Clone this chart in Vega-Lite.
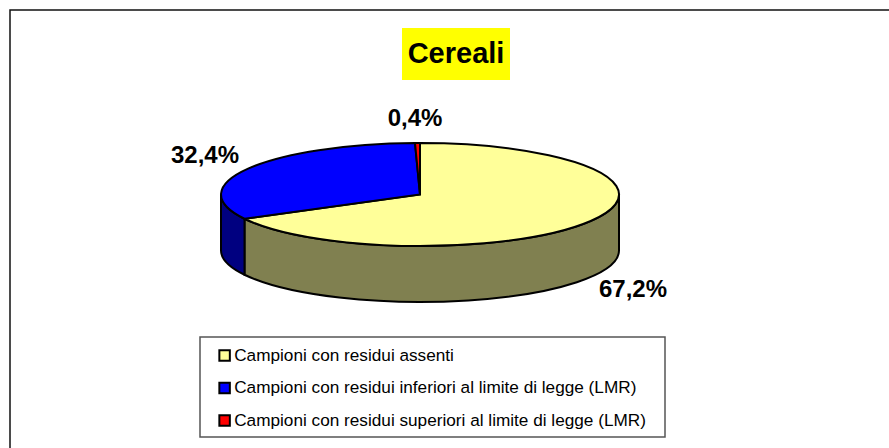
{
  "$schema": "https://vega.github.io/schema/vega-lite/v6.json",
  "autosize": {"type": "none"},
  "padding": {"left": 10, "top": 10, "right": 0, "bottom": 0},
  "width": 880,
  "height": 439,
  "background": "white",
  "view": {"stroke": "#111111", "strokeWidth": 1.5, "fill": "white"},
  "title": {"text": "Cereali", "font": "Liberation Sans", "fontSize": 29, "fontWeight": "bold", "color": "black", "anchor": "middle", "baseline": "alphabetic", "offset": 0, "dx": 6, "dy": 82},
  "data": {"values": [
    {"categoria": "Campioni con residui assenti", "percentuale": 67.2, "etichetta": "67,2%"},
    {"categoria": "Campioni con residui inferiori al limite di legge (LMR)", "percentuale": 32.4, "etichetta": "32,4%"},
    {"categoria": "Campioni con residui superiori al limite di legge (LMR)", "percentuale": 0.4, "etichetta": "0,4%"}
  ]},
  "layer": [
    {
      "data": {"values": [{"parte": "sfondo titolo"}]},
      "mark": {"type": "point", "filled": true, "opacity": 1, "size": 4, "fill": "#FFFF00", "stroke": null, "shape": "M-48,-201.5 L60,-201.5 L60,-149.5 L-48,-149.5 Z"}
    },
    {
      "data": {"values": [{"parte": "riquadro legenda"}]},
      "mark": {"type": "point", "filled": true, "opacity": 1, "size": 4, "fill": "white", "stroke": "#555555", "strokeWidth": 1.5, "shape": "M-250,107.5 L215,107.5 L215,207.5 L-250,207.5 Z"}
    },
    {
      "transform": [{"filter": "datum.etichetta === '67,2%'"}],
      "mark": {"type": "point", "filled": true, "opacity": 1, "size": 4, "stroke": "black", "strokeWidth": 2, "fill": "#808050", "shape": "M169,-35 A199,51.5 0 0 1 -205.5,-10.74 L-205.5,45.26 A199,51.5 0 0 0 169,21 Z"}
    },
    {
      "transform": [{"filter": "datum.etichetta === '32,4%'"}],
      "mark": {"type": "point", "filled": true, "opacity": 1, "size": 4, "stroke": "black", "strokeWidth": 2, "fill": "#000080", "shape": "M-205.5,-10.74 A199,51.5 0 0 1 -229,-35 L-229,21 A199,51.5 0 0 0 -205.5,45.26 Z"}
    },
    {
      "mark": {"type": "point", "filled": true, "opacity": 1, "size": 4, "stroke": "black", "strokeWidth": 2},
      "encoding": {
        "fill": {
          "field": "categoria", "type": "nominal",
          "scale": {"domain": ["Campioni con residui assenti", "Campioni con residui inferiori al limite di legge (LMR)", "Campioni con residui superiori al limite di legge (LMR)"], "range": ["#FFFF99", "#0000FF", "#FF0000"]},
          "legend": {"orient": "none", "legendX": 206, "legendY": 337, "title": null, "padding": 0, "symbolType": "square", "symbolSize": 110, "symbolStrokeColor": "black", "symbolStrokeWidth": 2, "labelFont": "Liberation Sans", "labelFontSize": 17.2, "labelColor": "black", "labelOffset": 1, "labelLimit": 600, "rowPadding": 13.5}
        },
        "shape": {"field": "etichetta", "type": "nominal", "legend": null, "scale": {"domain": ["67,2%", "32,4%", "0,4%"], "range": [
          "M-30,-35 L-30,-86.5 A199,51.5 0 1 1 -205.5,-10.74 Z",
          "M-30,-35 L-205.5,-10.74 A199,51.5 0 0 1 -35,-86.48 Z",
          "M-30,-35 L-35,-86.48 A199,51.5 0 0 1 -30,-86.5 Z"
        ]}}
      }
    },
    {
      "transform": [{"filter": "datum.etichetta === '67,2%'"}],
      "mark": {"type": "text", "font": "Liberation Sans", "fontWeight": "bold", "fontSize": 24, "color": "black", "align": "center", "baseline": "middle", "dx": 183, "dy": 60.5},
      "encoding": {"text": {"field": "etichetta"}}
    },
    {
      "transform": [{"filter": "datum.etichetta === '32,4%'"}],
      "mark": {"type": "text", "font": "Liberation Sans", "fontWeight": "bold", "fontSize": 24, "color": "black", "align": "center", "baseline": "middle", "dx": -245, "dy": -73.5},
      "encoding": {"text": {"field": "etichetta"}}
    },
    {
      "transform": [{"filter": "datum.etichetta === '0,4%'"}],
      "mark": {"type": "text", "font": "Liberation Sans", "fontWeight": "bold", "fontSize": 24, "color": "black", "align": "center", "baseline": "middle", "dx": -35, "dy": -110.5},
      "encoding": {"text": {"field": "etichetta"}}
    }
  ]
}
